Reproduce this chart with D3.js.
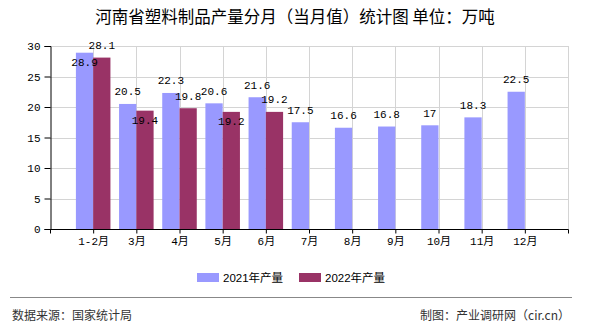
<!DOCTYPE html>
<html>
<head>
<meta charset="utf-8">
<script src="https://cdn.jsdelivr.net/npm/d3@7/dist/d3.min.js"></script>
<style>
  body { margin: 0; background: #fff; }
  svg { display: block; }
</style>
</head>
<body>
<svg id="chart" width="590" height="330"></svg>
<script>
// Monthly plastic products output, Henan province (10k tonnes)
const categories = ["1-2月", "3月", "4月", "5月", "6月", "7月", "8月", "9月", "10月", "11月", "12月"];
const output2021 = [28.9, 20.5, 22.3, 20.6, 21.6, 17.5, 16.6, 16.8, 17, 18.3, 22.5];
const output2022 = [28.1, 19.4, 19.8, 19.2, 19.2];
const yTickValues = [0, 5, 10, 15, 20, 25, 30];
const seriesNames = ["2021年产量", "2022年产量"];
const seriesColors = ["#9999ff", "#993366"];

const titleText = "河南省塑料制品产量分月（当月值）统计图\u00a0单位：万吨";
const sourceText = "数据来源：国家统计局";
const creditText = "制图：产业调研网（cir.cn）";

const W = 590, H = 330;
const plot = { left: 50, right: 568, top: 46, bottom: 229 };

const monoFont = "'Liberation Mono', 'Noto Sans CJK SC', monospace";
const cjkFont = "'Noto Sans CJK SC', 'Liberation Sans', sans-serif";

const svg = d3.select("#chart");

// category positions sit on the inner ticks; the outer ticks mark the plot edges
const slots = ["__start", ...categories, "__end"];
const x = d3.scalePoint().domain(slots).range([plot.left, plot.right]);
const barW = x.step() * 0.4;

const y = d3.scaleLinear().domain([0, 30]).range([plot.bottom, plot.top]);

// gridlines
const grid = svg.append("g").attr("stroke", "#d4d4d4").attr("stroke-width", 1);
grid.selectAll("line.h").data(yTickValues.filter(v => v > 0)).join("line")
  .attr("x1", plot.left).attr("x2", plot.right)
  .attr("y1", d => Math.round(y(d)) + 0.5).attr("y2", d => Math.round(y(d)) + 0.5);
grid.selectAll("line.v").data(slots.slice(1)).join("line")
  .attr("y1", plot.top).attr("y2", plot.bottom)
  .attr("x1", d => Math.round(x(d)) + 0.5).attr("x2", d => Math.round(x(d)) + 0.5);

// bars
const rows2021 = categories.map((c, i) => ({ cat: c, v: output2021[i], s: 0 }));
const rows2022 = output2022.map((v, i) => ({ cat: categories[i], v: v, s: 1 }));
const allRows = [...rows2021, ...rows2022];

svg.append("g").selectAll("rect").data(allRows).join("rect")
  .attr("x", d => d.s === 0 ? x(d.cat) - barW : x(d.cat))
  .attr("width", barW)
  .attr("y", d => y(d.v))
  .attr("height", d => y(0) - y(d.v))
  .attr("fill", d => seriesColors[d.s]);

// axes
const yAxis = d3.axisLeft(y).tickValues(yTickValues).tickSize(6).tickPadding(4);
const gy = svg.append("g").attr("transform", `translate(${plot.left + 0.5},0)`).call(yAxis);
gy.select(".domain").attr("stroke", "#000");
gy.selectAll(".tick line").attr("stroke", "#000");
gy.selectAll(".tick text").attr("font-family", monoFont).attr("font-size", 11).attr("fill", "#000");

const xAxis = d3.axisBottom(x).tickSize(4).tickPadding(4)
  .tickFormat(d => d.startsWith("__") ? "" : d);
const gx = svg.append("g").attr("transform", `translate(0,${plot.bottom + 0.5})`).call(xAxis);
gx.select(".domain").attr("stroke", "#000").attr("d", `M${plot.left},0H${plot.right + 0.5}`);
gx.selectAll(".tick line").attr("stroke", "#000");
gx.selectAll(".tick text").attr("font-family", monoFont).attr("font-size", 11).attr("fill", "#000");

// value labels: above the bar, or tucked just inside its top when they would
// run off the plot or collide with a label already placed
const labelH = 10;
const placed = [];
const labels = allRows.map(d => {
  const txt = String(d.v);
  const w = txt.length * 6.2;
  const cx = d.s === 0 ? x(d.cat) - barW / 2 : x(d.cat) + barW / 2;
  let cy = y(d.v) - 12.5;
  const box = c => ({ x0: cx - w / 2, x1: cx + w / 2, y0: c - labelH / 2, y1: c + labelH / 2 });
  const hits = b => placed.some(p => b.x0 < p.x1 && b.x1 > p.x0 && b.y0 < p.y1 && b.y1 > p.y0);
  let b = box(cy);
  if (b.y0 < plot.top - 8 || hits(b)) { cy = y(d.v) + 9; b = box(cy); }
  placed.push(b);
  return { txt, cx, cy };
});
svg.append("g").selectAll("text").data(labels).join("text")
  .attr("x", d => d.cx).attr("y", d => d.cy)
  .attr("dy", "0.35em").attr("text-anchor", "middle")
  .attr("font-family", monoFont).attr("font-size", 11).attr("fill", "#000")
  .text(d => d.txt);

// title
svg.append("text").attr("x", 295).attr("y", 17).attr("dy", "0.35em")
  .attr("text-anchor", "middle").attr("font-family", cjkFont)
  .attr("font-size", 16.5).attr("fill", "#000").text(titleText);

// legend
const legend = svg.append("g").attr("font-family", "'Liberation Sans', 'Noto Sans CJK SC', sans-serif")
  .attr("font-size", 11.5);
const legendX = [197, 299];
seriesNames.forEach((name, i) => {
  legend.append("rect").attr("x", legendX[i]).attr("y", 273).attr("width", 22).attr("height", 9)
    .attr("fill", seriesColors[i]);
  legend.append("text").attr("x", legendX[i] + 26).attr("y", 277.5).attr("dy", "0.35em")
    .attr("fill", "#000").text(name);
});

// footer
svg.append("line").attr("x1", 10).attr("x2", 572).attr("y1", 297.5).attr("y2", 297.5)
  .attr("stroke", "#888").attr("stroke-width", 1);
svg.append("text").attr("x", 12).attr("y", 316).attr("dy", "0.35em")
  .attr("font-family", cjkFont).attr("font-size", 12).attr("fill", "#333").text(sourceText);
svg.append("text").attr("x", 570).attr("y", 316).attr("dy", "0.35em").attr("text-anchor", "end")
  .attr("font-family", cjkFont).attr("font-size", 12).attr("fill", "#333").text(creditText);
</script>
</body>
</html>
